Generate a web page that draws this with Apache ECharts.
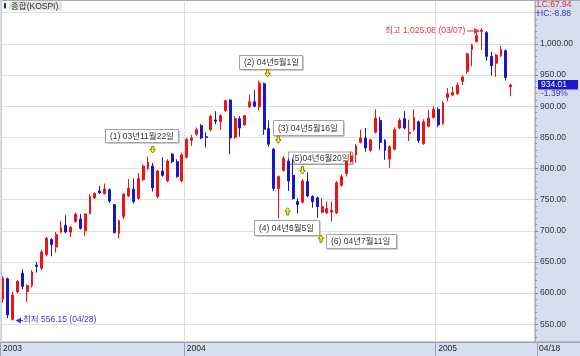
<!DOCTYPE html>
<html><head><meta charset="utf-8">
<script src="https://cdn.jsdelivr.net/npm/echarts@6/dist/echarts.min.js"></script>
<style>html,body{margin:0;padding:0;background:#fff}#c{width:580px;height:356px}</style>
</head><body><div id="c"></div>
<script>
// ---- data (weekly KOSPI, from week of 2003-04-14) ----
const firstWeek = '2003-04-14';
const openP  = [590,623,558,602,632,603,612,645,640,662,686,674,698,709,698,715,719,700,728,753,764,760,766,742,696,723,756,767,752,782,800,804,755,796,780,823,811,780,
  818,845,855,869,851,862,878,875,893,910,850,880,870,899,907,899,936,864,831,768,797,812,789,747,746,779,755,753,730,729,730,729,773,792,811,822,842,849,829,858,877,845,815,831,865,880,856,862,875,840,868,882,
  895,872,914,918,920,940,956,991,1004,1020,1018,980,969,981,989,931];
const closeP = [624,565,597,619,611,612,634,643,666,688,678,694,705,698,706,727,704,727,755,760,761,767,748,697,716,759,768,747,784,804,810,769,796,789,812,811,787,822,
  847,849,862,849,850,884,876,885,909,849,880,865,885,907,900,937,863,839,768,787,816,780,752,742,780,756,747,739,739,736,733,777,787,811,820,836,849,833,846,881,842,829,835,862,877,865,858,882,845,875,881,895,
  870,905,920,922,934,947,984,998,1013,1022,980,965,982,991,946,934.01];
const lowP   = [585,560,556.15,600,606,586,609,633,637,659,659,665,696,696,690,713,702,692,726,751,759,758,745,696,688,719,754,744,750,780,798,763,752,787,778,809,785,778,
  816,836,853,847,834,860,871,862,891,823,848,851,868,897,898,893,854,835,764,720,795,764,750,728,744,754,737,721,728,727,715,727,771,787,809,809,840,827,827,856,830,814,801,829,863,863,844,860,841,838,866,880,
  866,870,908,916,918,934,952,964,1002,990,973,949,947,979,941,916];
const highP  = [627,625,602,621,638,614,637,650,670,690,688,698,716,725,707,729,727,728,759,762,772,776,768,743,718,760,783,784,793,807,819,809,798,818,815,825,815,825,
  849,854,866,871,858,886,892,887,910,911,884,884,886,919,926,941,938,877,833,789,820,816,815,752,783,794,757,755,753,747,747,780,790,812,827,839,862,865,848,895,883,847,837,866,881,892,878,895,877,879,894,900,
  898,908,929,931,938,949,986,1000,1023,1025.08,1020,987,984,997,991,936];
const yTickValues = [550,600,650,700,750,800,850,900,950,1000,1050];
const yLabelValues = [550,600,650,700,750,800,850,900,950,1000];
const lastDateLabel = '04/18';
const lastClose = '934.01';
const lastChange = '-1.39%';
const lcText = 'LC:67.94';
const hcText = 'HC:-8.88';
const titleText = '종합(KOSPI)';
const highNote = '최고 1,025.08 (03/07)';
const lowNote = '최저 556.15 (04/28)';
const noteTexts = ['(1) 03년11월22일','(2) 04년5월1일','(3) 04년5월16일','(4) 04년6월5일','(5)04년6월20일','(6) 04년7월11일'];

// ---- build categories ----
const dates = [];
{
  let t = Date.parse(firstWeek + 'T00:00:00Z');
  for (let i = 0; i < openP.length; i++) { dates.push(new Date(t).toISOString().slice(0,10)); t += 7*86400000; }
}
const PAD = 5;
const cats = dates.concat(Array.from({length: PAD}, (_, i) => 'pad' + i));
const yearStart = new Set();
dates.forEach((d, i) => { if (i === 0 || d.slice(0,4) !== dates[i-1].slice(0,4)) yearStart.add(i); });
const ohlc = openP.map((o, i) => [o, closeP[i], lowP[i], highP[i]]);
const minorTicks = []; for (let v = 530; v <= 1060; v += 10) if (v % 50) minorTicks.push(v);

const RED = '#ee1414', BLUE = '#1616cc';
const FONT = "'Liberation Sans','Noto Sans CJK KR',sans-serif";
const YMIN = 521.6, YMAX = 1067.2;
const fmt = v => { const s = v.toFixed(2).split('.'); return s[0].replace(/\B(?=(\d{3})+$)/g, ',') + '.' + s[1]; };

// ---- decorations ----
const g = [];
const rect = (x, y, w, h, fill, z, stroke) => g.push({type:'rect', z: z, silent:true, shape:{x, y, width:w, height:h}, style: stroke ? {fill, stroke, lineWidth:1} : {fill}});
const text = (x, y, t, fill, size, z, align) => g.push({type:'text', z: z, silent:true, x, y, style:{text:t, fill, font: size + 'px ' + FONT, textVerticalAlign:'middle', textAlign: align || 'left'}});
function arrow(cx, top, bottom, dir) {
  const hw = 2.8, sw = 1.1, hh = 3.6;
  let pts;
  if (dir === 'down') pts = [[cx-sw,top],[cx+sw,top],[cx+sw,bottom-hh],[cx+hw,bottom-hh],[cx,bottom],[cx-hw,bottom-hh],[cx-sw,bottom-hh]];
  else pts = [[cx-sw,bottom],[cx+sw,bottom],[cx+sw,top+hh],[cx+hw,top+hh],[cx,top],[cx-hw,top+hh],[cx-sw,top+hh]];
  g.push({type:'polygon', z:3, silent:true, shape:{points:pts}, style:{fill:'#ffff00', stroke:'#6b5e00', lineWidth:0.8}});
}
// panels
rect(535, 0, 45, 356, '#d6deef', 5);
rect(0, 342, 580, 14, '#d6deef', 5);
rect(0, 341.5, 580, 1.2, '#8e939c', 6);
rect(534.5, 0, 1.2, 342, '#9aa0ab', 6);
rect(0, 0, 580, 1, '#a9a9a9', 6);
rect(0, 0, 2, 342, '#c9d1e0', 6);
// title
rect(4, 3, 2, 5.5, '#1a1ae0', 6);
rect(9, 1.5, 53, 9, '#e4e4e4', 6);
text(11, 6.3, titleText, '#333', 8.5, 7);
// LC / HC
text(537, 5, lcText, '#e02828', 8.5, 12);
text(537, 13.5, hcText, '#3434c8', 8.5, 12);
// last value box
rect(538, 80, 40, 9.5, '#1a1acd', 7);
text(541, 85, lastClose, '#ffffff', 8.5, 8);
text(541, 93.5, lastChange, '#3434c8', 8.5, 7);
text(539, 349, lastDateLabel, '#222', 8.5, 7);
// annotation boxes
const boxes = [[105,129,73,13,110],[239,55,63,14,244],[273,120,70,15,278],[254,220,65,15,259],[288,151.5,64,12,292],[326,234,70,14,331]];
boxes.forEach((b, i) => {
  rect(b[0]+1.5, b[1]+1.5, b[2], b[3], '#9c9c9c', 1);
  rect(b[0]+0.5, b[1]+0.5, b[2], b[3], '#ffffff', 1, '#a4a4a4');
  text(b[4], b[1] + b[3]/2 + 0.8, noteTexts[i], '#333', 8.5, 1);
});
arrow(152.7, 146.5, 153, 'down');
arrow(267.7, 69.5, 76.8, 'down');
arrow(278.3, 136, 143.3, 'down');
arrow(302.5, 166.7, 174, 'down');
arrow(287.7, 207.7, 215, 'up');
arrow(321, 235, 242.3, 'up');
// high / low notes
text(385, 30.7, highNote, '#e83838', 8.5, 7);
g.push({type:'line', z:7, silent:true, shape:{x1:467, y1:31, x2:476, y2:31}, style:{stroke:'#e83838', lineWidth:1}});
g.push({type:'polygon', z:7, silent:true, shape:{points:[[474,28],[480,31],[474,34]]}, style:{fill:'#e83838'}});
text(23, 320, lowNote, '#3a3ad8', 8.5, 7);
g.push({type:'line', z:7, silent:true, shape:{x1:19, y1:320.5, x2:23, y2:320.5}, style:{stroke:'#3a3ad8', lineWidth:1}});
g.push({type:'polygon', z:7, silent:true, shape:{points:[[21,317.5],[15.5,320.5],[21,323.5]]}, style:{fill:'#3a3ad8'}});

const chart = echarts.init(document.getElementById('c'), null, {renderer:'canvas'});
chart.setOption({
  animation: false,
  backgroundColor: '#ffffff',
  grid: {left: 0.57, top: 2, width: 536.7, height: 340, show: true, backgroundColor:'#ffffff', borderWidth: 0, containLabel:false, outerBoundsMode:'none'},
  xAxis: {
    type: 'category', data: cats, boundaryGap: true, z: 10,
    axisLine: {show: false},
    axisTick: {show: true, interval: i => yearStart.has(i), length: 14, lineStyle: {color: '#9aa2b2'}},
    axisLabel: {show: true, interval: i => yearStart.has(i), formatter: v => v.slice(0,4), align: 'left', margin: 2,
      fontSize: 8.5, fontFamily: FONT, color: '#222'},
    splitLine: {show: true, interval: i => yearStart.has(i), lineStyle: {color: '#dcdcdc', width: 1}}
  },
  yAxis: [
    {type:'value', position:'right', min: YMIN, max: YMAX, axisLine:{show:false},
      axisTick:{show:false, customValues: yTickValues}, axisLabel:{show:false, customValues: yTickValues},
      splitLine:{show:true, lineStyle:{color:'#e0e0e0', width:1}}},
    {type:'value', position:'right', offset: -2.3, min: YMIN, max: YMAX, z: 10,
      axisLine:{show:false},
      axisTick:{show:true, customValues: yTickValues, length: 3, lineStyle:{color:'#7c8290'}},
      axisLabel:{show:true, customValues: yLabelValues, formatter: fmt, margin: 5, fontSize: 8.5, fontFamily: FONT, color:'#333'},
      splitLine:{show:false}},
    {type:'value', position:'right', offset: -2.3, min: YMIN, max: YMAX, z: 10,
      axisLine:{show:false},
      axisTick:{show:true, customValues: minorTicks, length: 2, lineStyle:{color:'#8a909c'}},
      axisLabel:{show:false, customValues: minorTicks},
      splitLine:{show:false}}
  ],
  series: [{
    type: 'candlestick', data: ohlc, yAxisIndex: 0, barWidth: 2.4, z: 2,
    itemStyle: {color: RED, color0: BLUE, borderColor: RED, borderColor0: BLUE, borderWidth: 1}
  }],
  graphic: {elements: g}
});
</script>
</body></html>
